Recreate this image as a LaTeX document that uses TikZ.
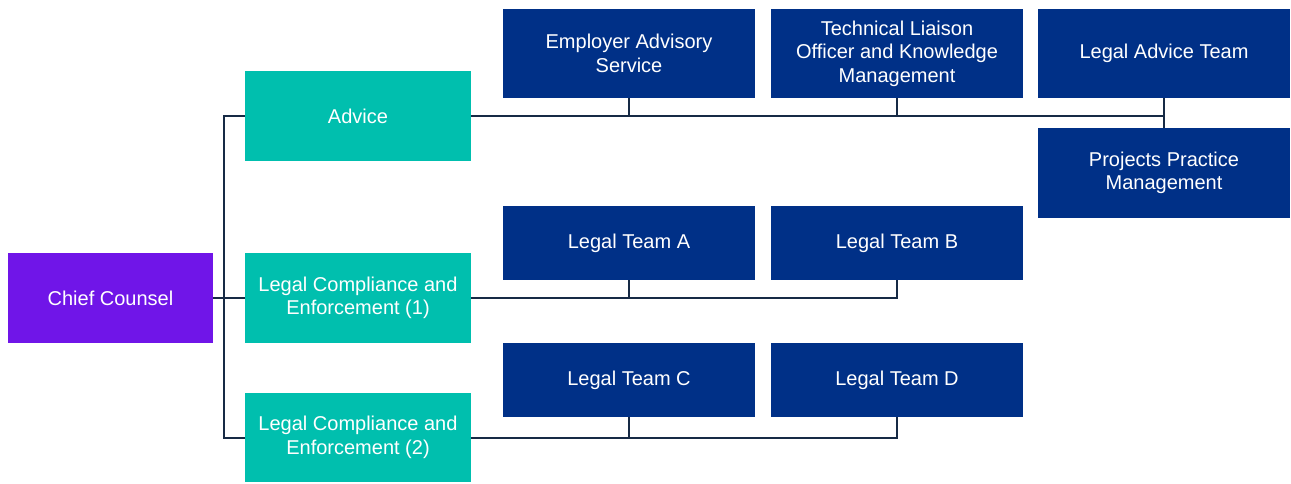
\documentclass[tikz,border=0pt]{standalone}
\usepackage{fontspec}
\setmainfont{Liberation Sans}
\definecolor{cpurple}{HTML}{7015E8}
\definecolor{cteal}{HTML}{00BFAE}
\definecolor{cnavy}{HTML}{003087}
\definecolor{cline}{HTML}{172A45}
\begin{document}
\begin{tikzpicture}[x=1pt,y=-1pt,
  box/.style={draw=none, inner sep=0pt, text=white, align=center,
    font=\fontsize{20}{23.5}\selectfont},
  chiefbox/.style={box, fill=cpurple, minimum width=205pt, minimum height=90pt},
  midbox/.style={box, fill=cteal, minimum width=226pt, minimum height=90pt},
  teambox/.style={box, fill=cnavy, minimum width=252pt, minimum height=89pt},
  smallteam/.style={box, fill=cnavy, minimum width=252pt, minimum height=74pt},
  conn/.style={draw=cline, line width=2pt}]
\useasboundingbox (0,0) rectangle (1291,483);
\node[chiefbox] (chief) at (110.5,298) {Chief Counsel};
\node[midbox] (advice) at (358,116) {Advice};
\node[midbox] (lce1) at (358,298) {Legal Compliance and\\Enforcement (1)};
\node[midbox, minimum height=89pt] (lce2) at (358,437.5) {Legal Compliance and\\Enforcement (2)};
\node[teambox] (eas) at (629,53.5) {Employer Advisory\\Service};
\node[teambox] (tlo) at (897,53.5) {Technical Liaison\\Officer and Knowledge\\Management};
\node[teambox] (lat) at (1164,53.5) {Legal Advice Team};
\node[teambox, minimum height=90pt] (ppm) at (1164,173) {Projects Practice\\Management};
\node[smallteam] (lta) at (629,243) {Legal Team A};
\node[smallteam] (ltb) at (897,243) {Legal Team B};
\node[smallteam] (ltc) at (629,380) {Legal Team C};
\node[smallteam] (ltd) at (897,380) {Legal Team D};
% bus from chief
\coordinate (busTop) at (224,116);
\draw[conn] (advice.west) -- (busTop) |- (lce2.west);
\draw[conn] (chief.east) -- (lce1.west);
% advice branch
\draw[conn] (advice.east) -- (lat.south |- advice.east);
\draw[conn] (eas.south) -- (eas.south |- advice.east);
\draw[conn] (tlo.south) -- (tlo.south |- advice.east);
\draw[conn] (lat.south) -- (ppm.north);
% lce1 branch
\draw[conn] (lce1.east) -| (ltb.south);
\draw[conn] (lta.south) -- (lta.south |- lce1.east);
% lce2 branch
\draw[conn] (lce2.east) -| (ltd.south);
\draw[conn] (ltc.south) -- (ltc.south |- lce2.east);
\end{tikzpicture}
\end{document}
